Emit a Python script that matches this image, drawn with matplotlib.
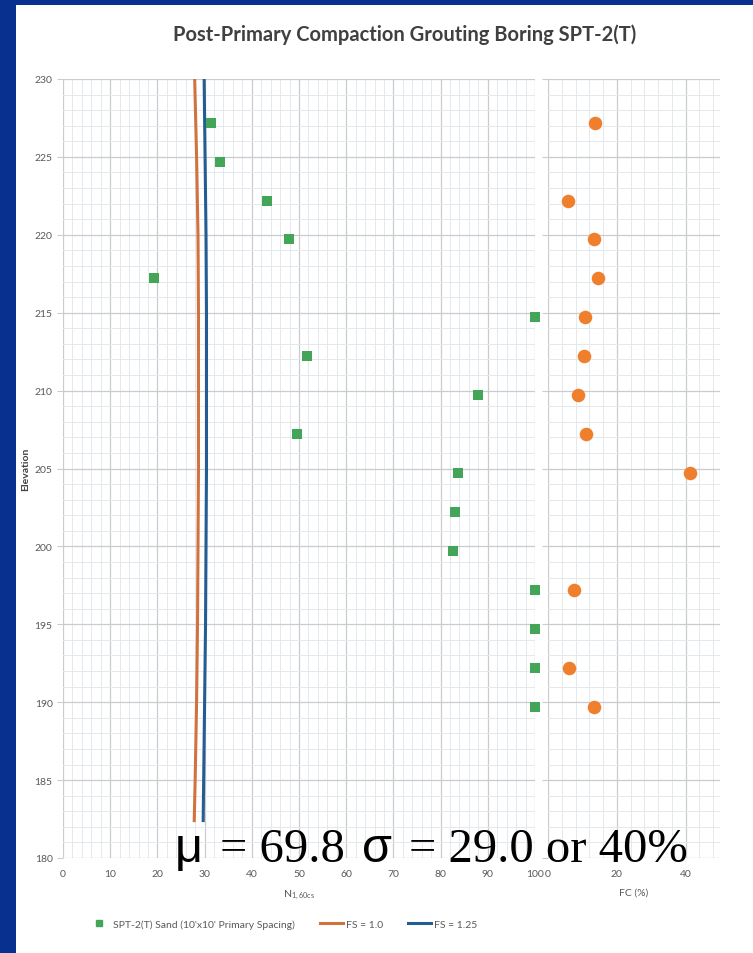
import numpy as np
import matplotlib
matplotlib.use("Agg")
import matplotlib.pyplot as plt
from matplotlib.lines import Line2D
from matplotlib.patches import Rectangle
from matplotlib.transforms import IdentityTransform
from matplotlib.ticker import MultipleLocator

# SPT-2(T) boring, sampled every 2.5 ft of elevation
elevation = [227.2, 224.7, 222.2, 219.7, 217.2, 214.7, 212.2, 209.7,
             207.2, 204.7, 202.2, 199.7, 197.2, 194.7, 192.2, 189.7]
n160cs = [31.4, 33.3, 43.2, 47.9, 19.3, 100.0, 51.7, 87.9,
          49.6, 83.7, 83.1, 82.6, 100.0, 100.0, 100.0, 100.0]

# fines content where it was measured
fc_elevation = [227.2, 222.2, 219.7, 217.2, 214.7, 212.2, 209.7, 207.2,
                204.7, 197.2, 192.2, 189.7]
fc_percent = [13.7, 5.8, 13.4, 14.5, 10.8, 10.5, 8.7, 11.0,
              41.3, 7.6, 6.1, 13.4]

# required N1,60cs for a given factor of safety against liquefaction
fs_elevation = [230.0, 225.0, 220.0, 215.0, 210.0, 205.0, 200.0, 195.0, 190.0, 185.0, 182.4]
fs_100 = [27.9, 28.3, 28.6, 28.7, 28.7, 28.7, 28.6, 28.5, 28.3, 28.0, 27.8]
fs_125 = [29.9, 30.1, 30.3, 30.4, 30.4, 30.4, 30.3, 30.2, 30.0, 29.8, 29.7]

GREEN = "#43a557"
ORANGE_PT = "#f07f2d"
ORANGE_LN = "#d0733e"
BLUE_LN = "#245d92"
TXT = "#595959"
FONT = "Lato"

plt.rcParams["font.family"] = [FONT, "DejaVu Sans"]

fig = plt.figure(figsize=(7.53, 9.54), dpi=100)
fig.patch.set_facecolor("#07308f")
fig.add_artist(Rectangle((16 / 753, 0), 1 - 16 / 753, 1 - 6 / 954,
                         transform=fig.transFigure, facecolor="white",
                         edgecolor="none", zorder=0))

bottom, top = 1 - 859 / 954, 1 - 80 / 954
ax = fig.add_axes([63 / 753, bottom, (535 - 63) / 753, top - bottom])
ax2 = fig.add_axes([548 / 753, bottom, (720 - 548) / 753, top - bottom])


def style_grid(a, xmajor, xminor):
    a.set_facecolor("none")
    a.set_ylim(180, 230)
    a.xaxis.set_major_locator(MultipleLocator(xmajor))
    a.xaxis.set_minor_locator(MultipleLocator(xminor))
    a.yaxis.set_major_locator(MultipleLocator(5))
    a.yaxis.set_minor_locator(MultipleLocator(1))
    a.grid(which="major", color="#c9ccce", linewidth=0.9)
    a.grid(which="minor", color="#e3e9ed", linewidth=0.7)
    a.set_axisbelow(True)
    for s in a.spines.values():
        s.set_visible(False)
    a.tick_params(axis="x", which="both", length=0, labelsize=7.5,
                  labelcolor=TXT, pad=8)
    a.tick_params(axis="y", which="major", length=4, color="#c9ccce",
                  labelsize=7.5, labelcolor=TXT)
    a.tick_params(axis="y", which="minor", length=0)


style_grid(ax, 10, 2)
ax.set_xlim(0, 100)
style_grid(ax2, 20, 4)
ax2.set_xlim(0, 50)
ax2.set_xticks([0, 20, 40])
ax2.tick_params(axis="y", labelleft=False)

ax.plot(fs_100, fs_elevation, color=ORANGE_LN, linewidth=2.2, zorder=3)
ax.plot(fs_125, fs_elevation, color=BLUE_LN, linewidth=2.2, zorder=3)
ax.scatter(n160cs, elevation, marker="s", s=55, color=GREEN, zorder=4,
           linewidths=0, clip_on=False)
ax2.scatter(fc_percent, fc_elevation, marker="o", s=95, color=ORANGE_PT,
            zorder=4, linewidths=0, clip_on=False)

ax.set_xlabel(r"$\mathregular{N_{1,60cs}}$", fontsize=7.5, color=TXT, labelpad=7)
ax2.set_xlabel("FC (%)", fontsize=7.5, color=TXT, labelpad=7)
ax.set_ylabel("Elevation", fontsize=7.5, color="#404040", fontweight="bold",
              labelpad=3)

fig.text(405 / 753, 1 - 35 / 954, "Post-Primary Compaction Grouting Boring SPT-2(T)",
         ha="center", va="center", fontsize=14.5, fontweight="bold", color="#404040")

handles = [
    Line2D([], [], marker="s", linestyle="none", color=GREEN, markersize=5),
    Line2D([], [], color=ORANGE_LN, linewidth=2.2),
    Line2D([], [], color=BLUE_LN, linewidth=2.2),
]
fig.legend(handles, ["SPT-2(T) Sand (10'x10' Primary Spacing)", "FS = 1.0", "FS = 1.25"],
           loc="center", bbox_to_anchor=(0.375, 1 - 925 / 954), ncol=3,
           frameon=False, fontsize=7.5, labelcolor=TXT, handlelength=2.2,
           handletextpad=0.3, columnspacing=2.4)

# statistics annotation, greek letters in a sans face
renderer = fig.canvas.get_renderer()
runs = [("μ", "Liberation Sans"), ("= 69.8", "Liberation Serif"),
        ("σ", "Liberation Sans"), ("= 29.0 or 40%", "Liberation Serif")]
x_px, y_px = 175, 954 - 862
for text, family in runs:
    t = fig.text(x_px, y_px, text, transform=IdentityTransform(), fontsize=35,
                 family=family, color="black", ha="left", va="baseline", zorder=10)
    bb = t.get_window_extent(renderer)
    x_px = bb.x1 + 17

fig.savefig("out.png", dpi=100)
